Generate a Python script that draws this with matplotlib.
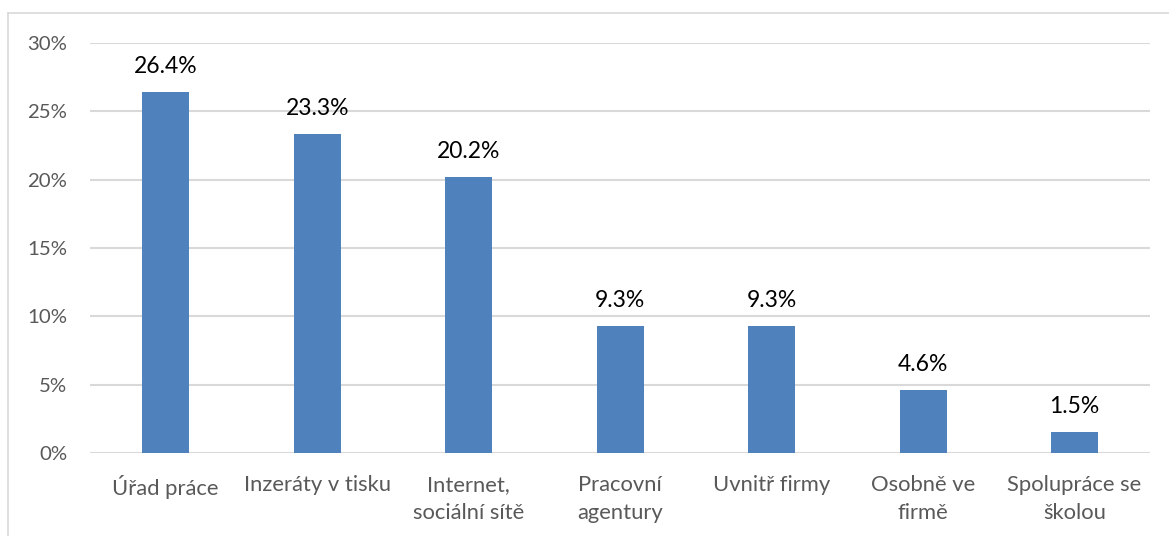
import numpy as np
import matplotlib.pyplot as plt
from matplotlib.lines import Line2D
from matplotlib.ticker import FuncFormatter

plt.rcParams['font.family'] = ['Lato', 'DejaVu Sans']

categories = ['Úřad práce', 'Inzeráty v tisku', 'Internet,\nsociální sítě',
              'Pracovní\nagentury', 'Uvnitř firmy', 'Osobně ve\nfirmě',
              'Spolupráce se\nškolou']
values = [26.4, 23.3, 20.2, 9.3, 9.3, 4.6, 1.5]
yticks = [0, 5, 10, 15, 20, 25, 30]

fig = plt.figure(figsize=(11.69, 5.36), dpi=100)
ax = fig.add_axes([0.077, 0.155, 0.907, 0.765])

x = np.arange(len(categories))
ax.bar(x, values, width=0.31, color='#4F81BD', zorder=3)
for xi, v in zip(x, values):
    ax.text(xi, v + 1.1, f'{v:.1f}%', ha='center', va='bottom',
            fontsize=16.5, color='black')

ax.set_xlim(-0.5, len(categories) - 0.5)
ax.set_ylim(0, 30)
ax.set_yticks(yticks)
ax.yaxis.set_major_formatter(FuncFormatter(lambda v, p: f'{v:.0f}%'))
ax.grid(axis='y', color='#D9D9D9', linewidth=1.5, zorder=0)
ax.set_xticks(x)
ax.set_xticklabels(categories, fontsize=15.8, color='#595959', linespacing=1.5)
ax.tick_params(axis='y', labelsize=14.7, labelcolor='#595959', length=0, pad=16.5)
ax.tick_params(axis='x', length=0, pad=16)
for s in ax.spines.values():
    s.set_visible(False)

# chart frame: top and left edges
fig.add_artist(Line2D([8 / 1169, 8 / 1169], [0, 1 - 13 / 536],
                      color='#D9D9D9', linewidth=1.2, transform=fig.transFigure))
fig.add_artist(Line2D([8 / 1169, 1], [1 - 13 / 536, 1 - 13 / 536],
                      color='#D9D9D9', linewidth=1.2, transform=fig.transFigure))

fig.savefig('out.png', dpi=100)
